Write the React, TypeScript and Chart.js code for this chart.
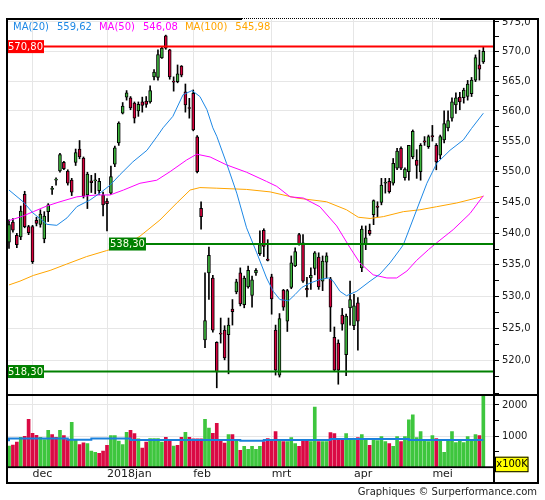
import React, { useEffect, useRef } from 'react';
import { Chart, registerables } from 'chart.js';

Chart.register(...registerables);

const FONT = '"DejaVu Sans", Verdana, sans-serif';
const W = 545;
const TOP_H = 396;
const BOT_H = 104;

// x axis: trading-day index
const X_MIN = -0.51;
const X_MAX = 123.72;
const PRICE_MIN = 514.7;
const PRICE_MAX = 575.5;
const VOL_MAX = 2288;

// Daily candles: [open, high, low, close]
const CANDLES: number[][] = [
  [538.6, 542.2, 537.6, 541.4], [541.8, 542.4, 540.2, 540.5], [539.7, 540.0, 537.7, 538.2],
  [539.45, 544.4, 539.0, 543.6], [546.3, 546.8, 540.9, 541.1], [541.1, 541.3, 539.8, 540.1],
  [541.1, 541.3, 535.2, 535.5], [542.1, 542.6, 541.2, 541.6], [541.45, 543.8, 541.0, 543.1],
  [539.1, 543.5, 538.5, 542.8], [543.5, 544.8, 541.9, 544.6], [547.1, 547.6, 546.3, 547.3],
  [548.6, 549.0, 547.8, 548.8], [550.1, 553.0, 549.9, 552.8], [551.5, 551.7, 550.3, 550.5],
  [550.1, 550.3, 547.8, 548.1], [548.6, 548.9, 546.1, 546.65], [551.5, 553.7, 551.0, 553.1],
  [553.7, 555.1, 552.1, 552.4], [552.2, 552.4, 545.7, 546.0], [546.2, 549.9, 544.0, 549.6],
  [548.5, 549.4, 546.6, 548.2], [548.5, 549.7, 546.4, 548.6], [546.9, 548.9, 546.3, 548.4],
  [546.2, 546.65, 542.8, 544.6], [545.2, 545.6, 540.4, 544.8], [546.5, 550.9, 546.3, 549.2],
  [551.2, 554.2, 550.8, 553.9], [554.7, 558.2, 554.3, 558.0], [559.65, 561.4, 559.5, 560.8],
  [562.3, 563.4, 561.8, 563.0], [562.2, 562.4, 560.2, 560.5], [561.3, 561.5, 558.0, 558.8],
  [560.0, 561.5, 559.1, 561.1], [561.5, 562.3, 559.8, 560.9], [561.65, 562.4, 560.6, 561.1],
  [561.5, 564.2, 561.3, 563.4], [565.7, 566.9, 565.2, 566.5], [565.6, 570.25, 565.15, 569.45],
  [568.9, 570.85, 568.8, 570.55], [572.65, 572.75, 570.35, 570.55], [570.25, 570.35, 565.3, 565.7],
  [565.0, 565.7, 563.3, 564.8], [564.9, 567.7, 564.7, 566.2], [567.5, 567.6, 565.7, 566.0],
  [563.2, 564.5, 559.8, 561.0], [560.5, 562.1, 558.8, 560.4], [562.95, 563.5, 556.7, 556.85],
  [555.7, 555.9, 549.8, 550.0], [544.05, 545.1, 540.7, 542.7], [523.2, 533.7, 522.0, 526.2],
  [533.7, 537.8, 529.5, 536.5], [532.9, 533.3, 524.4, 524.7], [522.8, 522.9, 515.8, 518.25],
  [524.2, 526.6, 522.7, 524.1], [524.7, 525.4, 520.1, 520.4], [524.0, 526.6, 517.95, 525.5],
  [528.0, 529.5, 525.5, 527.6], [530.7, 532.7, 530.4, 532.3], [533.7, 534.5, 528.5, 528.8],
  [528.7, 533.2, 528.2, 532.9], [531.5, 534.8, 531.3, 534.1], [530.15, 533.2, 528.3, 532.6],
  [533.7, 534.4, 533.3, 534.1], [536.75, 540.4, 536.5, 538.2], [540.5, 540.75, 536.3, 537.9],
  [535.9, 539.0, 535.6, 535.7], [533.1, 533.5, 527.2, 529.6], [524.7, 525.5, 517.75, 518.5],
  [517.75, 527.3, 517.45, 526.5], [531.0, 531.1, 527.8, 528.3], [526.1, 531.1, 524.5, 530.9],
  [531.4, 536.4, 531.2, 535.3], [534.8, 537.7, 534.7, 537.1], [539.8, 540.0, 538.1, 538.3],
  [538.5, 539.8, 532.2, 532.4], [531.25, 533.0, 529.9, 531.0], [532.9, 534.5, 531.1, 533.3],
  [534.4, 537.1, 533.4, 536.9], [536.2, 536.9, 531.1, 531.5], [532.4, 536.4, 530.9, 535.6],
  [535.4, 536.9, 532.9, 536.4], [532.75, 533.0, 524.5, 528.3], [523.6, 525.2, 518.3, 518.5],
  [522.7, 523.2, 516.35, 518.5], [527.05, 528.1, 524.7, 525.65], [520.9, 527.2, 517.65, 526.9],
  [528.2, 532.4, 525.5, 529.5], [525.4, 530.3, 524.8, 528.5], [529.0, 529.8, 521.6, 526.1],
  [534.5, 541.2, 533.9, 540.7], [538.2, 541.2, 537.4, 539.3], [540.5, 541.5, 539.7, 539.95],
  [543.0, 545.4, 541.4, 545.3], [544.4, 545.1, 542.7, 544.2], [545.0, 548.9, 544.6, 547.8],
  [548.1, 548.9, 546.5, 548.2], [548.4, 548.9, 546.5, 546.75], [548.1, 552.15, 547.8, 551.35],
  [550.55, 553.8, 550.3, 553.35], [553.8, 554.05, 550.3, 550.55], [549.0, 550.6, 548.6, 550.4],
  [550.0, 554.3, 548.6, 554.3], [552.4, 556.85, 552.1, 556.6], [551.9, 553.6, 548.9, 551.0],
  [550.0, 554.6, 548.6, 554.3], [555.05, 555.75, 554.3, 554.85], [554.1, 556.0, 553.8, 555.75],
  [555.9, 557.6, 555.0, 555.7], [554.3, 554.6, 550.3, 551.6], [552.7, 556.0, 552.1, 555.75],
  [555.2, 560.0, 554.7, 557.9], [557.2, 560.0, 556.7, 558.4], [558.8, 562.2, 558.3, 561.5],
  [561.0, 563.0, 559.6, 562.2], [562.3, 563.1, 560.2, 561.5], [562.2, 563.8, 561.3, 563.5],
  [562.4, 565.1, 561.8, 564.5], [562.9, 565.6, 562.4, 565.15], [565.15, 569.4, 564.9, 568.95],
  [567.7, 570.2, 565.15, 567.0], [568.2, 570.8, 567.95, 570.0],
];

// Volume (x100K) and its up/down flag (1 = up)
const VOLUME: number[] = [
  685, 716, 811, 969, 1001, 1538, 1095, 1032, 969, 895, 1190, 1053, 969, 1190, 1022, 895,
  1443, 874, 737, 790, 769, 527, 485, 453, 527, 706, 1022, 1022, 843, 737, 1127, 1190,
  1085, 916, 622, 811, 927, 927, 927, 811, 969, 843, 685, 706, 969, 1127, 969, 916,
  916, 916, 1538, 1264, 1095, 1411, 843, 779, 1053, 1053, 895, 548, 674, 579, 674, 579,
  674, 832, 927, 895, 1148, 895, 832, 832, 958, 769, 674, 895, 895, 832, 1937, 832,
  832, 832, 1116, 1085, 895, 927, 1085, 895, 895, 958, 1053, 895, 706, 927, 863, 990,
  832, 769, 674, 990, 832, 990, 1527, 1685, 958, 1148, 863, 832, 1021, 927, 863, 484,
  895, 1148, 800, 895, 800, 990, 863, 1053, 1021, 2288,
];
const VOLUME_UP: number[] = [
  1, 0, 0, 1, 0, 0, 0, 0, 1, 1, 1, 0, 0, 1, 0, 0, 1, 1, 0, 0, 1, 1, 1, 0, 0, 0, 1, 1, 1, 1,
  1, 0, 0, 1, 0, 0, 1, 1, 1, 1, 0, 0, 1, 0, 0, 1, 0, 0, 0, 0, 1, 1, 0, 0, 0, 0, 1, 0, 1, 0,
  1, 1, 1, 1, 1, 0, 0, 0, 0, 1, 0, 1, 1, 1, 0, 0, 0, 1, 1, 0, 1, 1, 0, 0, 0, 0, 1, 1, 1, 0,
  1, 1, 0, 1, 1, 1, 1, 0, 1, 1, 0, 1, 1, 1, 1, 1, 1, 1, 1, 0, 1, 1, 1, 1, 1, 1, 1, 1, 1, 1,
  0, 1,
];

// Volume average (step line)
const VOL_AVG_X = [0, 15, 21, 31, 59, 65, 82, 102, 111, 121];
const VOL_AVG_Y = [843, 927, 885, 927, 884, 853, 884, 916, 884, 884];

// Moving averages read at sample positions (x = day index)
const MA20_X = [0, 3.6, 6.1, 9.7, 12.2, 14.8, 17.3, 20.7, 23.2, 25.8, 28.3, 31.6, 35.2, 37.8, 39.3, 41.8, 44.4, 46.7, 48.7, 50.5, 52, 53, 55.5, 58.1, 60.6, 63.2, 65.7, 67.4, 69.1, 71.3, 73, 74.7, 76.8, 79.3, 81.5, 82.7, 84.4, 86.1, 88.7, 92.1, 94.6, 97.2, 99.7, 100.6, 104, 106.6, 109.1, 112.5, 115.9, 118, 121];
const MA20_Y = [547.0, 545.1, 543.3, 541.45, 541.3, 542.5, 544.3, 545.4, 546.5, 547.8, 549.5, 551.6, 553.5, 555.8, 557.2, 559.1, 562.7, 563.4, 562.4, 560.2, 557.2, 555.8, 551.35, 546.5, 540.9, 536.9, 532.9, 530.8, 529.5, 529.3, 530.3, 531.4, 532.1, 532.65, 532.9, 532.4, 530.8, 530.1, 530.8, 532.4, 533.5, 535.3, 537.4, 538.2, 543.8, 548.1, 551.35, 553.5, 555.2, 557.1, 559.62];
const MA50_X = [0, 3.6, 6.2, 9.6, 13, 17.3, 22.4, 25.8, 29.2, 33.4, 37.7, 41.1, 45.3, 47.9, 51.3, 55.5, 60.6, 65.7, 68.3, 71.7, 75.1, 79.3, 83.6, 87, 89.5, 92.9, 96.4, 98.9, 101.5, 104, 107, 109.1, 113.3, 117.6, 121];
const MA50_Y = [542.05, 542.8, 543.5, 544.4, 545.1, 545.9, 546.2, 546.2, 547.0, 548.1, 548.6, 550.0, 551.9, 552.85, 552.4, 551.1, 549.9, 548.4, 547.6, 545.9, 545.7, 544.3, 541.2, 537.7, 535.3, 533.4, 532.9, 532.9, 534.0, 535.7, 537.4, 538.5, 540.6, 543.2, 546.08];
const MA100_X = [0, 2.8, 6.2, 10.5, 14.7, 19.8, 24.9, 30, 33.4, 38.5, 42.8, 46.2, 48.7, 53, 60.6, 66.6, 73.4, 81, 86.1, 89.1, 92.1, 95.5, 100.6, 104.8, 109.1, 114.2, 121];
const MA100_Y = [531.8, 532.4, 533.3, 534.1, 535.1, 536.3, 537.25, 538.2, 539.55, 542.15, 544.9, 547.0, 547.4, 547.3, 547.1, 546.7, 545.7, 545.1, 543.8, 542.6, 542.4, 542.7, 543.5, 543.8, 544.3, 544.9, 545.98];

const MA_LABELS = ['MA(20)', 'MA(50)', 'MA(100)'];
const MA_COLORS = ['#1e88e5', '#ff00ff', '#ffa500'];

// Horizontal levels
const LEVELS = [570.8, 538.3, 518.3];
const LEVEL_FROM = [-0.51, 25.5, -0.51];
const LEVEL_COLORS = ['#ff0000', '#008000', '#008000'];
const LEVEL_TEXT = ['#ffffff', '#ffffe8', '#ffffe8'];

// Axes
const MONTH_POS = [6, 25, 47, 67, 88, 108];
const MONTH_LABELS = ['dec', '2018jan', 'feb', 'mrt', 'apr', 'mei'];
const PRICE_TICKS = [515, 517.5, 520, 522.5, 525, 527.5, 530, 532.5, 535, 537.5, 540, 542.5, 545, 547.5, 550, 552.5, 555, 557.5, 560, 562.5, 565, 567.5, 570, 572.5, 575];
const PRICE_LABELED = [520, 525, 530, 535, 540, 545, 550, 555, 560, 565, 570, 575];
const VOL_TICKS = [500, 1000, 1500, 2000];
const VOL_LABELED = [1000, 2000];

const GREEN = '#3cb43c';
const RED = '#d4003c';
const VGREEN = '#3ec63e';
const VRED = '#da0a44';
const GRID = '#e6e6e6';

const fmt = (v: number, d: number) => v.toFixed(d).replace('.', ',');

const topDecor = {
  id: 'topDecor',
  afterDraw(chart: any) {
    const { ctx, chartArea: ca } = chart;
    const xs = chart.scales.x;
    const ys = chart.scales.y;
    ctx.save();
    // hide label overflow above frame
    ctx.fillStyle = '#fff';
    ctx.fillRect(ca.right + 2, 0, chart.width - ca.right - 2, ca.top + 1);

    // level labels
    ctx.font = `10px ${FONT}`;
    ctx.textBaseline = 'middle';
    ctx.textAlign = 'center';
    LEVELS.forEach((lv, k) => {
      const y = ys.getPixelForValue(lv);
      const x0 = Math.max(ca.left, xs.getPixelForValue(LEVEL_FROM[k]));
      const txt = fmt(lv, 2);
      const w = ctx.measureText(txt).width + 2;
      ctx.fillStyle = LEVEL_COLORS[k];
      ctx.fillRect(x0, y - 6.5, w, 13);
      ctx.fillStyle = LEVEL_TEXT[k];
      ctx.fillText(txt, x0 + w / 2, y + 0.5);
    });

    // legend
    const lasts = [MA20_Y[MA20_Y.length - 1], MA50_Y[MA50_Y.length - 1], MA100_Y[MA100_Y.length - 1]];
    ctx.textAlign = 'left';
    let x = ca.left + 6;
    const ly = ca.top + 8;
    MA_LABELS.forEach((lab, k) => {
      ctx.fillStyle = MA_COLORS[k];
      ctx.fillText(lab, x, ly);
      x += ctx.measureText(lab).width + 8;
      const v = fmt(lasts[k], 2);
      ctx.fillText(v, x, ly);
      x += ctx.measureText(v).width + 7;
    });

    // frame
    const outerR = chart.width - 7;
    ctx.fillStyle = '#000';
    ctx.fillRect(ca.left - 1, ca.top - 1, 243 - ca.left, 2);
    for (let px = 242; px < 440; px += 2) ctx.fillRect(px, ca.top - 1, 1, 1);
    ctx.fillRect(440, ca.top - 1, outerR + 1 - 440, 2);
    ctx.fillRect(ca.left - 1, ca.top - 1, 2, chart.height - ca.top + 1);
    ctx.fillRect(ca.right - 1, ca.top - 1, 2, chart.height - ca.top + 1);
    ctx.fillRect(outerR - 1, ca.top - 1, 2, chart.height - ca.top + 1);
    ctx.fillRect(ca.left - 1, chart.height - 2, outerR + 2 - ca.left, 2);
    ctx.restore();
  },
};

const botDecor = {
  id: 'botDecor',
  afterDraw(chart: any) {
    const { ctx, chartArea: ca } = chart;
    const outerR = chart.width - 7;
    const bandBottom = chart.height - 18;
    ctx.save();
    ctx.fillStyle = '#000';
    ctx.fillRect(ca.left - 1, 0, 2, bandBottom + 2);
    ctx.fillRect(ca.right - 1, 0, 2, bandBottom + 2);
    ctx.fillRect(outerR - 1, 0, 2, bandBottom + 2);
    ctx.fillRect(ca.left - 1, ca.bottom - 1.2, ca.right - ca.left + 1, 1.8);
    ctx.fillRect(ca.left - 1, bandBottom, outerR + 1 - ca.left, 2);

    // unit box
    ctx.font = `10px ${FONT}`;
    const bx = ca.right + 1;
    const by = ca.bottom - 10.8;
    ctx.fillStyle = '#ffff00';
    ctx.fillRect(bx, by, 33.5, 15.5);
    ctx.strokeStyle = '#000';
    ctx.lineWidth = 1;
    ctx.strokeRect(bx + 0.5, by + 0.5, 32.5, 14.5);
    ctx.fillStyle = '#000';
    ctx.textAlign = 'center';
    ctx.textBaseline = 'middle';
    ctx.fillText('x100K', bx + 17, by + 8);

    // credits
    ctx.fillStyle = '#222';
    ctx.textAlign = 'right';
    ctx.fillText('Graphiques \u00a9 Surperformance.com', outerR - 1, chart.height - 8);
    ctx.restore();
  },
};

export default function App() {
  const topRef = useRef<HTMLCanvasElement>(null);
  const botRef = useRef<HTMLCanvasElement>(null);

  useEffect(() => {
    const xBase = {
      type: 'linear' as const,
      min: X_MIN,
      max: X_MAX,
      offset: false,
      afterBuildTicks: (s: any) => {
        s.ticks = MONTH_POS.map((v) => ({ value: v }));
      },
      border: { display: false },
    };

    const chartA = new Chart(topRef.current as HTMLCanvasElement, {
      type: 'line',
      data: {
        datasets: [
          ...LEVELS.map((lv, k) => ({
            type: 'line' as const,
            data: [{ x: LEVEL_FROM[k], y: lv }, { x: X_MAX, y: lv }],
            borderColor: LEVEL_COLORS[k],
            borderWidth: 2,
            pointRadius: 0,
            order: 0,
          })),
          {
            type: 'line' as const,
            data: MA20_X.map((x, k) => ({ x, y: MA20_Y[k] })),
            borderColor: MA_COLORS[0], borderWidth: 1, pointRadius: 0, order: 1,
          },
          {
            type: 'line' as const,
            data: MA50_X.map((x, k) => ({ x, y: MA50_Y[k] })),
            borderColor: MA_COLORS[1], borderWidth: 1, pointRadius: 0, order: 2,
          },
          {
            type: 'line' as const,
            data: MA100_X.map((x, k) => ({ x, y: MA100_Y[k] })),
            borderColor: MA_COLORS[2], borderWidth: 1, pointRadius: 0, order: 3,
          },
          {
            type: 'bar' as const,
            data: CANDLES.map((c, i) => ({ x: i, y: [c[0], c[3]] })) as any,
            backgroundColor: CANDLES.map((c) => (c[3] >= c[0] ? GREEN : RED)),
            borderColor: '#000',
            borderWidth: 1,
            borderSkipped: false,
            barThickness: 3,
            minBarLength: 1,
            grouped: false,
            order: 4,
          },
          {
            type: 'bar' as const,
            data: CANDLES.map((c, i) => ({ x: i, y: [c[2], c[1]] })) as any,
            backgroundColor: '#000',
            borderWidth: 0,
            barThickness: 1,
            grouped: false,
            order: 5,
          },
        ],
      },
      options: {
        animation: false,
        responsive: false,
        events: [],
        layout: { padding: { left: 7, right: 7, top: 19, bottom: 1 } },
        plugins: { legend: { display: false }, tooltip: { enabled: false } },
        scales: {
          x: {
            ...xBase,
            grid: { color: GRID, drawTicks: false, offset: false },
            ticks: { display: false },
            afterFit: (s: any) => { s.height = 0; s.paddingLeft = 0; s.paddingRight = 0; },
          },
          y: {
            type: 'logarithmic',
            position: 'right',
            min: PRICE_MIN,
            max: PRICE_MAX,
            bounds: 'data',
            afterBuildTicks: (s: any) => { s.ticks = PRICE_TICKS.map((v) => ({ value: v })); },
            ticks: {
              autoSkip: false,
              padding: 3,
              color: '#1a1a1a',
              font: { family: FONT, size: 10 },
              callback: (v: any) => (PRICE_LABELED.includes(Number(v)) ? fmt(Number(v), 1) : ''),
            },
            grid: {
              color: (c: any) => (c.tick && PRICE_LABELED.includes(c.tick.value) ? GRID : 'rgba(0,0,0,0)'),
              tickColor: '#000',
              tickLength: 5,
              drawTicks: true,
            },
            border: { display: false },
            afterFit: (s: any) => { s.width = 44; s.paddingTop = 0; s.paddingBottom = 0; },
          },
        },
      } as any,
      plugins: [topDecor],
    });

    const chartB = new Chart(botRef.current as HTMLCanvasElement, {
      type: 'line',
      data: {
        datasets: [
          {
            type: 'line' as const,
            data: VOL_AVG_X.map((x, k) => ({ x, y: VOL_AVG_Y[k] })),
            borderColor: '#1a80dc',
            borderWidth: 2,
            pointRadius: 0,
            stepped: 'after',
            order: 0,
          },
          {
            type: 'bar' as const,
            data: VOLUME.map((v, i) => ({ x: i, y: v })),
            backgroundColor: VOLUME_UP.map((u) => (u ? VGREEN : VRED)),
            borderWidth: 0,
            barThickness: 3,
            grouped: false,
            order: 1,
          },
        ],
      },
      options: {
        animation: false,
        responsive: false,
        events: [],
        layout: { padding: { left: 7, right: 7, top: 0, bottom: 18 } },
        plugins: { legend: { display: false }, tooltip: { enabled: false } },
        scales: {
          x: {
            ...xBase,
            grid: { color: GRID, drawTicks: false, offset: false },
            ticks: {
              display: true,
              autoSkip: false,
              maxRotation: 0,
              align: 'start',
              padding: 0,
              color: '#1a1a1a',
              font: { family: FONT, size: 11 },
              callback: (v: any) => MONTH_LABELS[MONTH_POS.indexOf(Number(v))] ?? '',
            },
            afterFit: (s: any) => { s.height = 14.5; s.paddingLeft = 0; s.paddingRight = 0; },
          },
          y: {
            type: 'linear',
            position: 'right',
            min: 0,
            max: VOL_MAX,
            afterBuildTicks: (s: any) => { s.ticks = VOL_TICKS.map((v) => ({ value: v })); },
            ticks: {
              autoSkip: false,
              padding: 3,
              color: '#1a1a1a',
              font: { family: FONT, size: 10 },
              callback: (v: any) => (VOL_LABELED.includes(Number(v)) ? String(v) : ''),
            },
            grid: {
              color: (c: any) => (c.tick && VOL_LABELED.includes(c.tick.value) ? GRID : 'rgba(0,0,0,0)'),
              tickColor: '#000',
              tickLength: 5,
              drawTicks: true,
            },
            border: { display: false },
            afterFit: (s: any) => { s.width = 44; s.paddingTop = 0; s.paddingBottom = 0; },
          },
        },
      } as any,
      plugins: [botDecor],
    });

    return () => {
      chartA.destroy();
      chartB.destroy();
    };
  }, []);

  return (
    <div style={{ position: 'absolute', left: 0, top: 0, width: W, height: 500, background: '#fff' }}>
      <canvas ref={topRef} width={W} height={TOP_H} style={{ position: 'absolute', left: 0, top: 0 }} />
      <canvas ref={botRef} width={W} height={BOT_H} style={{ position: 'absolute', left: 0, top: TOP_H }} />
    </div>
  );
}
